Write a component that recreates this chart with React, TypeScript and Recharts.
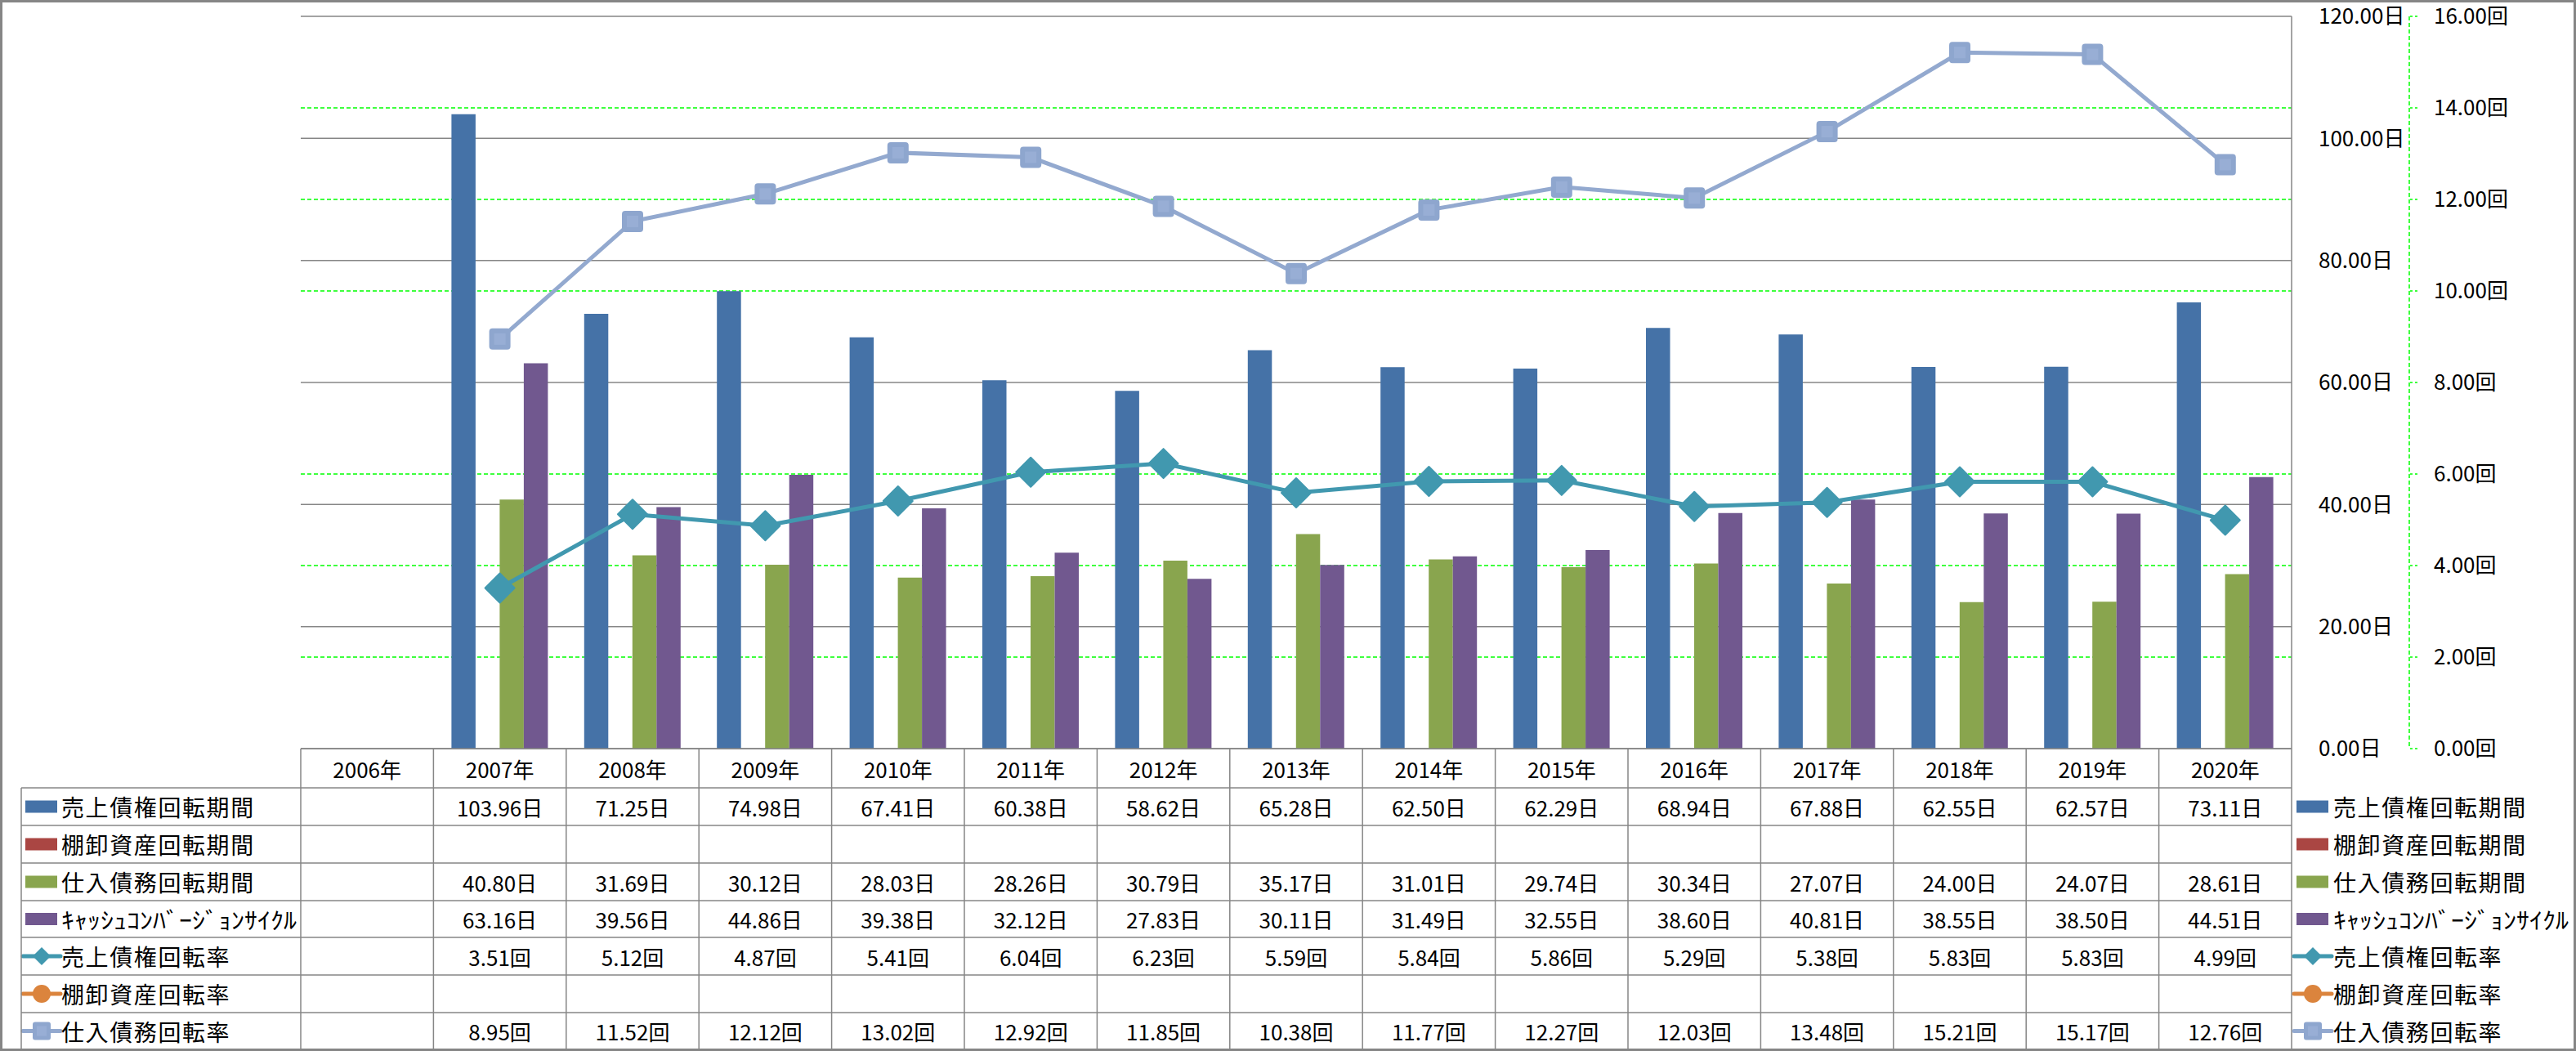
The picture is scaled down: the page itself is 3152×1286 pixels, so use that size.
import { Bar, CartesianGrid, ComposedChart, Line, XAxis, YAxis } from "recharts";

const years = [
  "2006年", "2007年", "2008年", "2009年", "2010年", "2011年", "2012年", "2013年",
  "2014年", "2015年", "2016年", "2017年", "2018年", "2019年", "2020年",
];

// 日 (days) series
const receivableDays = [null, 103.96, 71.25, 74.98, 67.41, 60.38, 58.62, 65.28, 62.5, 62.29, 68.94, 67.88, 62.55, 62.57, 73.11];
const inventoryDays = [null, null, null, null, null, null, null, null, null, null, null, null, null, null, null];
const payableDays = [null, 40.8, 31.69, 30.12, 28.03, 28.26, 30.79, 35.17, 31.01, 29.74, 30.34, 27.07, 24.0, 24.07, 28.61];
const cashConversion = [null, 63.16, 39.56, 44.86, 39.38, 32.12, 27.83, 30.11, 31.49, 32.55, 38.6, 40.81, 38.55, 38.5, 44.51];

// 回 (times) series
const receivableTurnover = [null, 3.51, 5.12, 4.87, 5.41, 6.04, 6.23, 5.59, 5.84, 5.86, 5.29, 5.38, 5.83, 5.83, 4.99];
const inventoryTurnover = [null, null, null, null, null, null, null, null, null, null, null, null, null, null, null];
const payableTurnover = [null, 8.95, 11.52, 12.12, 13.02, 12.92, 11.85, 10.38, 11.77, 12.27, 12.03, 13.48, 15.21, 15.17, 12.76];

const dayTicks = [0, 20, 40, 60, 80, 100, 120];
const timeTicks = [0, 2, 4, 6, 8, 10, 12, 14, 16];
// green lines only where they do not sit on a grey 日 line
const timeGridValues = [2, 4, 6, 10, 12, 14];

type Series = {
  key: string;
  name: string;
  color: string;
  unit: string;
  kind: "bar" | "diamond" | "circle" | "square";
  values: (number | null)[];
};

const series: Series[] = [
  { key: "receivableDays", name: "売上債権回転期間", color: "#4572A7", unit: "日", kind: "bar", values: receivableDays },
  { key: "inventoryDays", name: "棚卸資産回転期間", color: "#AA4643", unit: "日", kind: "bar", values: inventoryDays },
  { key: "payableDays", name: "仕入債務回転期間", color: "#89A54E", unit: "日", kind: "bar", values: payableDays },
  { key: "cashConversion", name: "ｷｬｯｼｭｺﾝﾊﾞｰｼﾞｮﾝｻｲｸﾙ", color: "#71588F", unit: "日", kind: "bar", values: cashConversion },
  { key: "receivableTurnover", name: "売上債権回転率", color: "#4198AF", unit: "回", kind: "diamond", values: receivableTurnover },
  { key: "inventoryTurnover", name: "棚卸資産回転率", color: "#DB843D", unit: "回", kind: "circle", values: inventoryTurnover },
  { key: "payableTurnover", name: "仕入債務回転率", color: "#93A9CF", unit: "回", kind: "square", values: payableTurnover },
];

const data = years.map((year, i) => {
  const row: Record<string, string | number | null> = { year };
  series.forEach((s) => (row[s.key] = s.values[i]));
  return row;
});

const W = 3152;
const H = 1286;
const PLOT_LEFT = 368;
const PLOT_RIGHT = 2804;
const PLOT_TOP = 20;
const DAY_AXIS_W = 144;
const TIME_AXIS_W = 150;
const HEADER_H = 48;
const ROW_H = [46, 46, 46, 45, 46, 46, 45];
const COL_W = (PLOT_RIGHT - PLOT_LEFT) / years.length;
const GRID = "#868686";
const FONT = '"Noto Sans CJK JP", "Noto Sans", sans-serif';

function HeaderTick(props: any) {
  const { x, y, payload } = props;
  const half = COL_W / 2;
  const last = payload.index === years.length - 1;
  return (
    <g>
      <line x1={x - half} x2={x - half} y1={y} y2={y + HEADER_H} stroke={GRID} strokeWidth={1.5} />
      {last && <line x1={x + half} x2={x + half} y1={y} y2={y + HEADER_H} stroke={GRID} strokeWidth={1.5} />}
      <text x={x} y={y + HEADER_H / 2} textAnchor="middle" dominantBaseline="central" fontSize={26} fontFamily={FONT} fill="#000">
        {payload.value}
      </text>
    </g>
  );
}

function makeRowTick(s: Series, h: number, isLastRow: boolean) {
  return (props: any) => {
    const { x, y, payload } = props;
    const half = COL_W / 2;
    const last = payload.index === years.length - 1;
    const v = s.values[payload.index];
    return (
      <g>
        <line x1={x - half} x2={x - half} y1={y} y2={y + h} stroke={GRID} strokeWidth={1.5} />
        {last && <line x1={x + half} x2={x + half} y1={y} y2={y + h} stroke={GRID} strokeWidth={1.5} />}
        {isLastRow && <line x1={x - half} x2={x + half} y1={y + h} y2={y + h} stroke={GRID} strokeWidth={1.5} />}
        <text x={x} y={y + h / 2} textAnchor="middle" dominantBaseline="central" fontSize={26} fontFamily={FONT} fill="#000">
          {v == null ? "" : `${v.toFixed(2)}${s.unit}`}
        </text>
      </g>
    );
  };
}

function diamondDot(color: string) {
  return (props: any) => {
    const { cx, cy, index } = props;
    if (cy == null || cx == null) return <g key={index} />;
    const r = 18;
    return (
      <polygon
        key={index}
        points={`${cx},${cy - r} ${cx + r},${cy} ${cx},${cy + r} ${cx - r},${cy}`}
        fill={color}
        stroke={color}
        strokeWidth={2}
        strokeLinejoin="round"
      />
    );
  };
}

function squareDot() {
  return (props: any) => {
    const { cx, cy, index } = props;
    if (cy == null || cx == null) return <g key={index} />;
    return (
      <g key={index}>
        <rect x={cx - 13} y={cy - 13} width={26} height={26} rx={4} fill="#8EA6CE" />
        <rect x={cx - 7} y={cy - 7} width={14} height={14} fill="#98AED5" />
      </g>
    );
  };
}

function LegendKey({ s, x, cy }: { s: Series; x: number; cy: number }) {
  if (s.kind === "bar") {
    return <rect x={x + 3} y={cy - 7.5} width={39} height={15} fill={s.color} />;
  }
  const mx = x + 23;
  return (
    <g>
      <line x1={x} x2={x + 46} y1={cy} y2={cy} stroke={s.color} strokeWidth={5} strokeLinecap="round" />
      {s.kind === "diamond" && (
        <polygon points={`${mx},${cy - 11} ${mx + 11},${cy} ${mx},${cy + 11} ${mx - 11},${cy}`} fill={s.color} />
      )}
      {s.kind === "circle" && <circle cx={mx} cy={cy} r={11} fill={s.color} />}
      {s.kind === "square" && (
        <g>
          <rect x={mx - 11} y={cy - 11} width={22} height={22} rx={3} fill="#8EA6CE" />
          <rect x={mx - 6} y={cy - 6} width={12} height={12} fill="#98AED5" />
        </g>
      )}
    </g>
  );
}

function LegendLabel({ s, x, cy }: { s: Series; x: number; cy: number }) {
  const halfWidth = s.key === "cashConversion";
  return (
    <text
      x={x}
      y={cy}
      dominantBaseline="central"
      fontSize={28}
      letterSpacing={halfWidth ? 0 : 1.6}
      fontFamily={FONT}
      fill="#000"
      textLength={halfWidth ? 288 : undefined}
      lengthAdjust={halfWidth ? "spacingAndGlyphs" : undefined}
    >
      {s.name}
    </text>
  );
}

function TableLegend() {
  const top0 = H - 2 - ROW_H.reduce((a, b) => a + b, 0);
  let y = top0;
  const rows = series.map((s, i) => {
    const h = ROW_H[i];
    const cy = y + h / 2;
    const el = (
      <g key={s.key}>
        <line x1={26} x2={PLOT_LEFT} y1={y} y2={y} stroke={GRID} strokeWidth={1.5} />
        <LegendKey s={s} x={28} cy={cy} />
        <LegendLabel s={s} x={75} cy={cy} />
        <LegendKey s={s} x={2807} cy={cy} />
        <LegendLabel s={s} x={2855} cy={cy} />
      </g>
    );
    y += h;
    return el;
  });
  return (
    <svg width={W} height={H} style={{ position: "absolute", left: 0, top: 0, pointerEvents: "none" }}>
      {rows}
      <line x1={26} x2={26} y1={top0} y2={y} stroke={GRID} strokeWidth={1.5} />
      <line x1={26} x2={PLOT_LEFT} y1={y} y2={y} stroke={GRID} strokeWidth={1.5} />
    </svg>
  );
}

export default function App() {
  const bars = series.filter((s) => s.kind === "bar");
  const lines = series.filter((s) => s.kind !== "bar");
  return (
    <div style={{ position: "relative", width: W, height: H, background: "#fff", overflow: "hidden" }}>
      <style>{"body{margin:0}"}</style>
      <ComposedChart
        width={W}
        height={H}
        data={data}
        barGap={0}
        margin={{ top: PLOT_TOP, left: PLOT_LEFT, right: W - PLOT_RIGHT - DAY_AXIS_W - TIME_AXIS_W, bottom: 2 }}
      >
        <CartesianGrid
          xAxisId="t0"
          yAxisId="times"
          vertical={false}
          horizontalValues={timeGridValues}
          stroke="#00FF00"
          strokeWidth={1.5}
          strokeDasharray="5 3"
        />
        <CartesianGrid xAxisId="t0" yAxisId="days" vertical={false} stroke={GRID} strokeWidth={1.5} />
        <XAxis
          xAxisId="t0"
          dataKey="year"
          height={HEADER_H}
          interval={0}
          tickSize={0}
          tickMargin={0}
          axisLine={{ stroke: GRID, strokeWidth: 1.5 }}
          tickLine={false}
          tick={HeaderTick}
        />
        {series.map((s, i) => (
          <XAxis
            key={s.key}
            xAxisId={`t${i + 1}`}
            dataKey="year"
            height={ROW_H[i]}
            interval={0}
            tickSize={0}
            tickMargin={0}
            axisLine={{ stroke: GRID, strokeWidth: 1.5 }}
            tickLine={false}
            tick={makeRowTick(s, ROW_H[i], i === series.length - 1)}
          />
        ))}
        <YAxis
          yAxisId="days"
          orientation="right"
          domain={[0, 120]}
          ticks={dayTicks}
          width={DAY_AXIS_W}
          tickSize={0}
          tickMargin={33}
          tickLine={false}
          axisLine={{ stroke: GRID, strokeWidth: 1.5 }}
          tick={{ fontSize: 26, fontFamily: FONT, fill: "#000", textAnchor: "start" }}
          tickFormatter={(v: number) => `${v.toFixed(2)}日`}
        />
        <YAxis
          yAxisId="times"
          orientation="right"
          domain={[0, 16]}
          ticks={timeTicks}
          width={TIME_AXIS_W}
          tickSize={10}
          tickMargin={20}
          tickLine={{ stroke: "#00FF00", strokeWidth: 1.5, strokeDasharray: "3 3" }}
          axisLine={{ stroke: "#00FF00", strokeWidth: 1.5, strokeDasharray: "5 3" }}
          tick={{ fontSize: 26, fontFamily: FONT, fill: "#000", textAnchor: "start" }}
          tickFormatter={(v: number) => `${v.toFixed(2)}回`}
        />
        {bars.map((s) => (
          <Bar
            key={s.key}
            xAxisId="t0"
            yAxisId="days"
            dataKey={s.key}
            name={s.name}
            fill={s.color}
            barSize={29.5}
            isAnimationActive={false}
          />
        ))}
        {lines.map((s) => (
          <Line
            key={s.key}
            xAxisId="t0"
            yAxisId="times"
            dataKey={s.key}
            name={s.name}
            stroke={s.color}
            strokeWidth={5}
            dot={s.kind === "diamond" ? diamondDot(s.color) : s.kind === "square" ? squareDot() : false}
            activeDot={false}
            isAnimationActive={false}
          />
        ))}
      </ComposedChart>
      <TableLegend />
      <div style={{ position: "absolute", inset: 0, border: `3px solid ${GRID}`, pointerEvents: "none" }} />
    </div>
  );
}
